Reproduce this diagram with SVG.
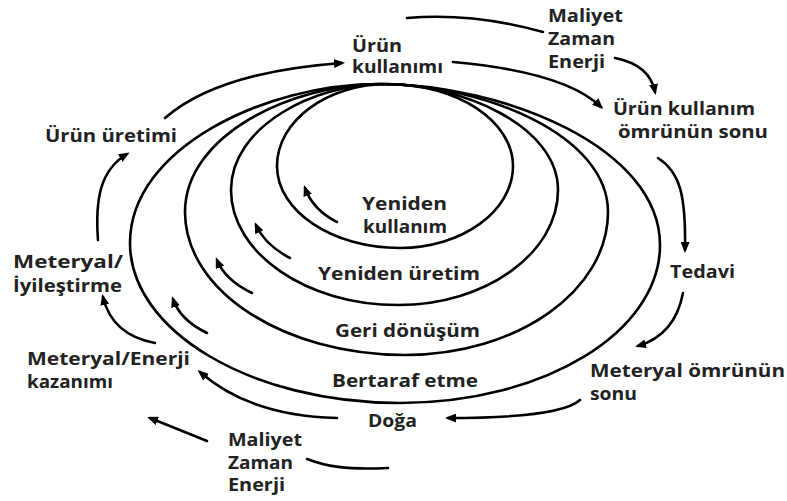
<svg xmlns="http://www.w3.org/2000/svg" width="787" height="501" viewBox="0 0 787 501">
<style>
  .lbl{font-family:"Open Sans","DejaVu Sans",sans-serif;font-weight:700;font-size:17px;fill:#222;}
  .loop{fill:none;stroke:#000;stroke-width:2.6;}
  .con{fill:none;stroke:#000;stroke-width:2.6;stroke-linecap:round;}
</style>
<defs>
  <marker id="ah" markerUnits="userSpaceOnUse" markerWidth="11" markerHeight="9" refX="8" refY="4.5" orient="auto">
    <path d="M0,0 L11,4.5 L0,9 z" fill="#000"/>
  </marker>
</defs>
<rect width="787" height="501" fill="#fff"/>
<g id="loops">
  <path id="loop-bertaraf" class="loop" d="M378,84 C505,84 660,148 660,245 C660,332 544,403 400,403 C251,403 130,331 130,243 C130,148 266,84 378,84 Z"/>
  <path id="loop-geri" class="loop" d="M380,84 C483,84 608,135 608,212 C608,291 517,355 405,355 C284,355 185,291 185,212 C185,135 292,84 380,84 Z"/>
  <path id="loop-uretim" class="loop" d="M383,84 C462,84 558,126 558,190 C558,253 486,305 398,305 C306,305 231,253 231,190 C231,126 315,84 383,84 Z"/>
  <path id="loop-kullanim" class="loop" d="M388,84 C457,84 513,121 513,166 C513,211 462,248 400,248 C332,248 277,211 277,166 C277,121 327,84 388,84 Z"/>
</g>
<g id="connectors">
  <path class="con" marker-end="url(#ah)" d="M165,118 Q218,72 342,63"/>
  <path class="con" marker-end="url(#ah)" d="M453,62 Q565,72 601,107"/>
  <path class="con" d="M407,18 C455,14 500,20 543,32"/>
  <path class="con" marker-end="url(#ah)" d="M615,58 Q650,65 655,92"/>
  <path class="con" marker-end="url(#ah)" d="M658,158 C680,172 686,195 685,250"/>
  <path class="con" marker-end="url(#ah)" d="M683,293 Q675,335 638,346"/>
  <path class="con" marker-end="url(#ah)" d="M580,400 Q560,418 448,418"/>
  <path class="con" marker-end="url(#ah)" d="M337,418 Q250,416 200,372"/>
  <path class="con" d="M307,459 C325,466 345,470 388,468"/>
  <path class="con" marker-end="url(#ah)" d="M207,441 Q180,430 150,418"/>
  <path class="con" marker-end="url(#ah)" d="M155,343 Q112,335 103,297"/>
  <path class="con" marker-end="url(#ah)" d="M98,240 C95,200 100,170 127,154"/>
  <path class="con" marker-end="url(#ah)" d="M337,222 Q313,210 305,188"/>
  <path class="con" marker-end="url(#ah)" d="M290,258 Q265,245 256,225"/>
  <path class="con" marker-end="url(#ah)" d="M252,293 Q225,280 217,260"/>
  <path class="con" marker-end="url(#ah)" d="M207,333 Q180,320 173,299"/>
</g>
<g id="node-urun-kullanimi"><text class="lbl" x="352" y="52" textLength="50" lengthAdjust="spacingAndGlyphs">Ürün</text><text class="lbl" x="352" y="73" textLength="91" lengthAdjust="spacingAndGlyphs">kullanımı</text></g>
<g id="node-maliyet-top"><text class="lbl" x="548" y="22" textLength="75" lengthAdjust="spacingAndGlyphs">Maliyet</text><text class="lbl" x="548" y="45" textLength="67" lengthAdjust="spacingAndGlyphs">Zaman</text><text class="lbl" x="548" y="68" textLength="57" lengthAdjust="spacingAndGlyphs">Enerji</text></g>
<g id="node-omur-sonu"><text class="lbl" x="613" y="115" textLength="142" lengthAdjust="spacingAndGlyphs">Ürün kullanım</text><text class="lbl" x="618" y="138" textLength="150" lengthAdjust="spacingAndGlyphs">ömrünün sonu</text></g>
<g id="node-urun-uretimi"><text class="lbl" x="45" y="142" textLength="132" lengthAdjust="spacingAndGlyphs">Ürün üretimi</text></g>
<g id="node-iyilestirme"><text class="lbl" x="13" y="268" textLength="110" lengthAdjust="spacingAndGlyphs">Meteryal/</text><text class="lbl" x="13" y="292" textLength="109" lengthAdjust="spacingAndGlyphs">İyileştirme</text></g>
<g id="node-kazanim"><text class="lbl" x="27" y="365" textLength="163" lengthAdjust="spacingAndGlyphs">Meteryal/Enerji</text><text class="lbl" x="27" y="388" textLength="86" lengthAdjust="spacingAndGlyphs">kazanımı</text></g>
<g id="node-maliyet-bottom"><text class="lbl" x="228" y="446" textLength="74" lengthAdjust="spacingAndGlyphs">Maliyet</text><text class="lbl" x="228" y="469" textLength="65" lengthAdjust="spacingAndGlyphs">Zaman</text><text class="lbl" x="228" y="491" textLength="57" lengthAdjust="spacingAndGlyphs">Enerji</text></g>
<g id="node-doga"><text class="lbl" x="368" y="427" textLength="49" lengthAdjust="spacingAndGlyphs">Doğa</text></g>
<g id="node-meteryal-omru"><text class="lbl" x="590" y="377" textLength="195" lengthAdjust="spacingAndGlyphs">Meteryal ömrünün</text><text class="lbl" x="590" y="400" textLength="47" lengthAdjust="spacingAndGlyphs">sonu</text></g>
<g id="node-tedavi"><text class="lbl" x="670" y="278" textLength="65" lengthAdjust="spacingAndGlyphs">Tedavi</text></g>
<g id="node-bertaraf"><text class="lbl" x="332" y="387" textLength="146" lengthAdjust="spacingAndGlyphs">Bertaraf etme</text></g>
<g id="node-geri"><text class="lbl" x="335" y="337" textLength="145" lengthAdjust="spacingAndGlyphs">Geri dönüşüm</text></g>
<g id="node-yeniden-uretim"><text class="lbl" x="318" y="280" textLength="162" lengthAdjust="spacingAndGlyphs">Yeniden üretim</text></g>
<g id="node-yeniden-kullanim"><text class="lbl" x="362" y="210" textLength="85" lengthAdjust="spacingAndGlyphs">Yeniden</text><text class="lbl" x="363" y="233" textLength="84" lengthAdjust="spacingAndGlyphs">kullanım</text></g>
</svg>
